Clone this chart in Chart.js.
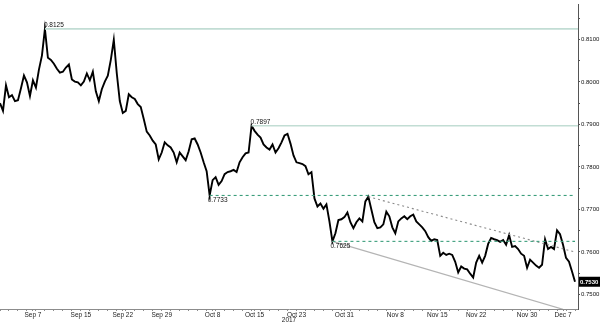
<!DOCTYPE html>
<html>
<head>
<meta charset="utf-8">
<script src="https://cdn.jsdelivr.net/npm/chart.js@4/dist/chart.umd.min.js"></script>
<style>
  html, body { margin: 0; padding: 0; background: #fff; }
  #wrap { width: 600px; height: 323px; }
</style>
</head>
<body>
<div id="wrap"><canvas id="fxChart" width="600" height="323"></canvas></div>
<script>
// Price path (closes), roughly 3 points per trading day, Sep 4 -> Dec 8 2017
const closes = [
  0.7950, 0.7932, 0.7992, 0.7964, 0.7969, 0.7955, 0.7957, 0.7985, 0.8015, 0.7999,
  0.7967, 0.8004, 0.7987, 0.8029, 0.8062, 0.8125, 0.8057, 0.8052, 0.8043, 0.8031,
  0.8022, 0.8024, 0.8034, 0.8041, 0.8006, 0.8001, 0.7999, 0.7992, 0.8001, 0.8020,
  0.8004, 0.8024, 0.7978, 0.7955, 0.7983, 0.8001, 0.8015, 0.8052, 0.8099, 0.8020,
  0.7955, 0.7927, 0.7932, 0.7971, 0.7964, 0.7960, 0.7948, 0.7941, 0.7913, 0.7883,
  0.7874, 0.7862, 0.7853, 0.7818, 0.7834, 0.7858, 0.7851, 0.7846, 0.7834, 0.7811,
  0.7834, 0.7825, 0.7816, 0.7837, 0.7865, 0.7867, 0.7853, 0.7834, 0.7811, 0.7790,
  0.7733, 0.7769, 0.7776, 0.7758, 0.7767, 0.7783, 0.7788, 0.7790, 0.7793, 0.7788,
  0.7811, 0.7823, 0.7832, 0.7834, 0.7897, 0.7885, 0.7876, 0.7869, 0.7853, 0.7846,
  0.7841, 0.7853, 0.7834, 0.7844, 0.7858, 0.7874, 0.7878, 0.7855, 0.7827, 0.7811,
  0.7809, 0.7807, 0.7802, 0.7783, 0.7788, 0.7726, 0.7707, 0.7714, 0.7702, 0.7712,
  0.7672, 0.7625, 0.7644, 0.7675, 0.7677, 0.7682, 0.7693, 0.7670, 0.7656, 0.7670,
  0.7679, 0.7672, 0.7719, 0.7730, 0.7700, 0.7670, 0.7656, 0.7658, 0.7665, 0.7695,
  0.7684, 0.7658, 0.7644, 0.7672, 0.7679, 0.7684, 0.7677, 0.7684, 0.7688, 0.7672,
  0.7665, 0.7658, 0.7649, 0.7635, 0.7626, 0.7630, 0.7628, 0.7591, 0.7598, 0.7593,
  0.7596, 0.7593, 0.7577, 0.7552, 0.7566, 0.7561, 0.7559, 0.7549, 0.7540, 0.7575,
  0.7591, 0.7575, 0.7591, 0.7619, 0.7633, 0.7630, 0.7628, 0.7624, 0.7628, 0.7617,
  0.7640, 0.7612, 0.7614, 0.7607, 0.7596, 0.7591, 0.7563, 0.7582, 0.7575, 0.7568,
  0.7563, 0.7570, 0.7630, 0.7607, 0.7612, 0.7607, 0.7651, 0.7642, 0.7617, 0.7586,
  0.7577, 0.7554, 0.7530
];

// X axis date labels and the point index they sit on
const dateTickIndex = [11, 27, 41, 54, 71, 85, 99, 115, 132, 146, 159, 176, 188];
const dateTickText = ['Sep 7', 'Sep 15', 'Sep 22', 'Sep 29', 'Oct 8', 'Oct 15', 'Oct 23',
                      'Oct 31', 'Nov 8', 'Nov 15', 'Nov 22', 'Nov 30', 'Dec 7'];
const yearLabel = '2017';

// Y axis ticks (labelled every 0.01, minor every 0.005)
const yTickValues = [0.7500, 0.7550, 0.7600, 0.7650, 0.7700, 0.7750, 0.7800,
                     0.7850, 0.7900, 0.7950, 0.8000, 0.8050, 0.8100, 0.8150];

// Horizontal levels: value, starting point index, ending point index
const levelValues = [0.8125, 0.7897, 0.7733, 0.7625];
const levelStart = [15, 84, 70, 111];
const levelEnd = [193, 193, 192, 192];

// Trend lines: from (index, value) to (index, value)
const trendFromIndex = [123, 111];
const trendFromValue = [0.7730, 0.7625];
const trendToIndex = [192, 188];
const trendToValue = [0.7600, 0.7465];

const lastValue = closes[closes.length - 1];

// one empty slot on the right so the last bar sits just inside the axis
const N = closes.length + 1;
const labels = [];
for (let i = 0; i < N; i++) {
    const k = dateTickIndex.indexOf(i);
    labels.push(k >= 0 ? dateTickText[k] : '');
}

function segment(i0, v0, i1, v1) {
    const arr = new Array(N).fill(null);
    arr[i0] = v0;
    arr[i1] = v1;
    return arr;
}

const levelColors = ['#c2ddd4', '#c2ddd4', '#3c9e7c', '#3c9e7c'];
const levelDash = [[], [], [3, 3], [3, 3]];
const trendColors = ['#8a8a8a', '#b4b4b4'];
const trendDash = [[2, 3], []];

const datasets = [];
levelValues.forEach((v, k) => {
    datasets.push({
        data: segment(levelStart[k], v, levelEnd[k], v),
        borderColor: levelColors[k],
        borderWidth: k < 2 ? 1.6 : 1.1,
        borderDash: levelDash[k],
        spanGaps: true,
        pointRadius: 0
    });
});
trendFromIndex.forEach((i0, k) => {
    datasets.push({
        data: segment(i0, trendFromValue[k], trendToIndex[k], trendToValue[k]),
        borderColor: trendColors[k],
        borderWidth: 1.1,
        borderDash: trendDash[k],
        spanGaps: true,
        pointRadius: 0
    });
});
datasets.push({
    data: closes,
    borderColor: '#000',
    borderWidth: 1.9,
    borderJoinStyle: 'miter',
    pointRadius: 0,
    tension: 0
});

const FONT = "'Liberation Sans', Arial, sans-serif";

// Text labels on levels + last price box
const levelLabelPlugin = {
    id: 'levelLabels',
    afterDatasetsDraw(chart) {
        const ctx = chart.ctx;
        const x = chart.scales.x;
        const y = chart.scales.y;
        ctx.save();
        ctx.font = '6.5px ' + FONT;
        ctx.fillStyle = '#111';
        ctx.textAlign = 'left';
        levelValues.forEach((v, k) => {
            const px = x.getPixelForValue(levelStart[k]);
            const py = y.getPixelForValue(v);
            if (k < 2) {
                ctx.textBaseline = 'bottom';
                ctx.fillText(v.toFixed(4), px - 1, py - 0.5);
            } else {
                ctx.textBaseline = 'top';
                ctx.fillText(v.toFixed(4), px - 2, py + 1.5);
            }
        });

        // last price tag on the axis
        const ly = y.getPixelForValue(lastValue);
        const area = chart.chartArea;
        ctx.fillStyle = '#000';
        ctx.fillRect(area.right + 1, ly - 5, 600 - area.right - 1, 10);
        ctx.fillStyle = '#fff';
        ctx.font = 'bold 6px ' + FONT;
        ctx.textBaseline = 'middle';
        ctx.fillText(lastValue.toFixed(4), area.right + 2, ly + 0.5);
        ctx.restore();
    }
};

const canvas = document.getElementById('fxChart');
new Chart(canvas.getContext('2d'), {
    type: 'line',
    data: { labels: labels, datasets: datasets },
    plugins: [levelLabelPlugin],
    options: {
        responsive: false,
        animation: false,
        layout: { padding: 0 },
        plugins: {
            legend: { display: false },
            tooltip: { enabled: false }
        },
        scales: {
            x: {
                type: 'category',
                offset: false,
                border: { display: true, color: '#8c8c8c', width: 1 },
                grid: {
                    drawOnChartArea: false,
                    drawTicks: true,
                    tickLength: 2,
                    color: '#8c8c8c'
                },
                ticks: {
                    autoSkip: false,
                    maxRotation: 0,
                    padding: 0,
                    color: '#222',
                    font: { size: 6.5, family: FONT },
                    callback: function(value, index) {
                        if (labels[index]) return labels[index];
                        return index % 3 === 0 ? '' : null;
                    }
                },
                title: {
                    display: true,
                    text: yearLabel,
                    color: '#222',
                    padding: 0,
                    font: { size: 6.5, family: FONT, lineHeight: 1 }
                },
                afterFit: function(scale) { scale.height = 14; }
            },
            y: {
                position: 'right',
                min: 0.74659,
                max: 0.81820,
                border: { display: true, color: '#555', width: 1 },
                grid: {
                    drawOnChartArea: false,
                    drawTicks: true,
                    tickLength: 2,
                    color: '#555'
                },
                afterBuildTicks: function(scale) {
                    scale.ticks = yTickValues.map(v => ({ value: v }));
                },
                ticks: {
                    padding: 1,
                    color: '#111',
                    font: { size: 6, family: FONT },
                    callback: function(value) {
                        return Math.round(value * 1000) % 10 === 0 ? value.toFixed(4) : '';
                    }
                },
                afterFit: function(scale) { scale.width = 22; }
            }
        }
    }
});
</script>
</body>
</html>
